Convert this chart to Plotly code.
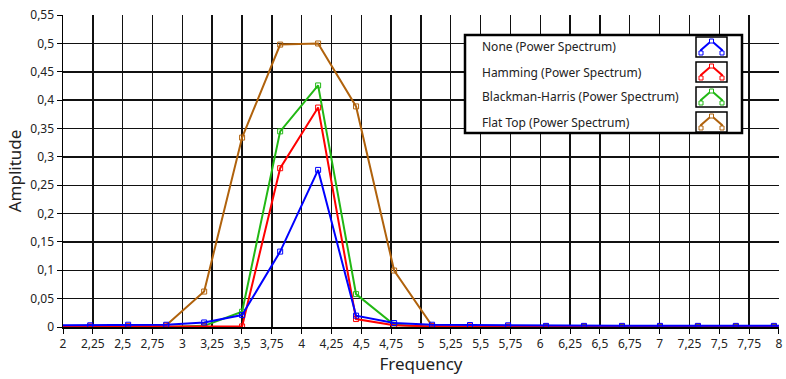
import plotly.graph_objects as go

# ---- data ----
freq = [1.910, 2.228, 2.546, 2.865, 3.183, 3.501, 3.820, 4.138, 4.456, 4.775,
        5.093, 5.411, 5.730, 6.048, 6.366, 6.685, 7.003, 7.321, 7.639, 7.958, 8.276]
none_ps = [0.003, 0.003, 0.004, 0.004, 0.008, 0.021, 0.133, 0.277, 0.020, 0.007,
           0.004, 0.0035, 0.003, 0.002, 0.002, 0.002, 0.002, 0.002, 0.002, 0.002, 0.002]
hamming_ps = [0.001, 0.001, 0.001, 0.001, 0.001, 0.001, 0.280, 0.387, 0.014, 0.003,
              0.001, 0.001, 0.001, 0.001, 0.001, 0.001, 0.001, 0.001, 0.001, 0.001, 0.001]
blackman_ps = [0.0, 0.0, 0.0, 0.0, 0.002, 0.027, 0.345, 0.426, 0.058, 0.004,
               0.0, 0.0, 0.0, 0.0, 0.0, 0.0, 0.0, 0.0, 0.0, 0.0, 0.0]
flattop_ps = [0.0, 0.0, 0.001, 0.003, 0.0625, 0.334, 0.498, 0.500, 0.389, 0.0996,
              0.002, 0.0, 0.0, 0.0, 0.0, 0.0, 0.0, 0.0, 0.0, 0.0, 0.0]

series_names = ["None (Power Spectrum)", "Hamming (Power Spectrum)",
                "Blackman-Harris (Power Spectrum)", "Flat Top (Power Spectrum)"]
series_values = [none_ps, hamming_ps, blackman_ps, flattop_ps]
colors = ["#0000ff", "#ff0000", "#22b814", "#b0620c"]

# ---- layout geometry (pixels) ----
W, H = 786, 379
L, R, T, B = 63, 7, 15, 52
PW, PH = W - L - R, H - T - B


def px(x):
    return (x - L) / PW


def py(y):
    return (H - B - y) / PH


fig = go.Figure()
# draw order: flat top first, None last (on top)
for name, vals, col in reversed(list(zip(series_names, series_values, colors))):
    fig.add_trace(go.Scatter(
        x=freq, y=vals, name=name, mode="lines+markers",
        line=dict(color=col, width=2),
        marker=dict(symbol="square-open", size=5, color=col, line=dict(width=1, color=col)),
        showlegend=False, hoverinfo="skip",
    ))

font_family = "Noto Sans, Open Sans, DejaVu Sans, sans-serif"

fig.update_layout(
    width=W, height=H,
    margin=dict(l=L, r=R, t=T, b=B, autoexpand=False),
    paper_bgcolor="white", plot_bgcolor="white",
    separators=",.", hovermode=False,
    font=dict(family=font_family, size=12, color="#222"),
    xaxis=dict(
        range=[2, 8.0005], tick0=2, dtick=0.25, showgrid=True, gridcolor="#111", gridwidth=1.4,
        zeroline=False, showline=True, linecolor="#000", linewidth=1.5, automargin=False,
        ticks="outside", ticklen=5, tickcolor="#000", tickwidth=1,
        tickfont=dict(size=12, color="#222"),
        title=dict(text="Frequency", font=dict(size=17, color="#222"), standoff=4),
    ),
    yaxis=dict(
        range=[0, 0.5502], tick0=0, dtick=0.05, showgrid=True, gridcolor="#111", gridwidth=1.4,
        zeroline=False, showline=True, linecolor="#000", linewidth=1.5, automargin=False,
        ticks="outside", ticklen=5, tickcolor="#000", tickwidth=1,
        tickfont=dict(size=12, color="#222"),
        title=dict(text="Amplitude", font=dict(size=17, color="#222"), standoff=4),
    ),
)

# ---- custom legend box (text left, icon right) ----
shapes = []
annotations = []
lx0, lx1, ly0, ly1 = 465, 742, 35, 133
shapes.append(dict(type="rect", xref="paper", yref="paper",
                   x0=px(lx0), x1=px(lx1), y0=py(ly1), y1=py(ly0),
                   fillcolor="white", line=dict(color="#000", width=2.5), layer="above"))
for i, (name, col) in enumerate(zip(series_names, colors)):
    cy = 47 + 25 * i
    annotations.append(dict(xref="paper", yref="paper", x=px(480), y=py(cy),
                            text=name, showarrow=False, xanchor="left", yanchor="middle",
                            font=dict(size=12, color="#222", family=font_family)))
    bx0, bx1, by0, by1 = 696, 727, cy - 10, cy + 10
    shapes.append(dict(type="rect", xref="paper", yref="paper",
                       x0=px(bx0), x1=px(bx1), y0=py(by1), y1=py(by0),
                       fillcolor="white", line=dict(color="#000", width=1.5), layer="above"))
    pts = [(bx0 + 5, by1 - 4), (bx0 + 5, by1 - 7), (bx0 + 13, by0 + 6), (bx0 + 15.5, by0 + 4),
           (bx0 + 18, by0 + 6), (bx1 - 5, by1 - 7), (bx1 - 5, by1 - 4)]
    path = "M " + " L ".join(f"{px(a):.5f},{py(b):.5f}" for a, b in pts)
    shapes.append(dict(type="path", xref="paper", yref="paper", path=path,
                       line=dict(color=col, width=2), layer="above"))
    for (a, b) in [pts[0], pts[3], pts[-1]]:
        shapes.append(dict(type="rect", xref="paper", yref="paper",
                           x0=px(a - 2), x1=px(a + 2), y0=py(b + 2), y1=py(b - 2),
                           line=dict(color=col, width=1), fillcolor="white", layer="above"))

fig.update_layout(shapes=shapes, annotations=annotations)
fig.write_html("out.html", config={"displayModeBar": False, "staticPlot": True},
               post_script="document.body.style.margin='0';document.body.style.overflow='hidden';")
